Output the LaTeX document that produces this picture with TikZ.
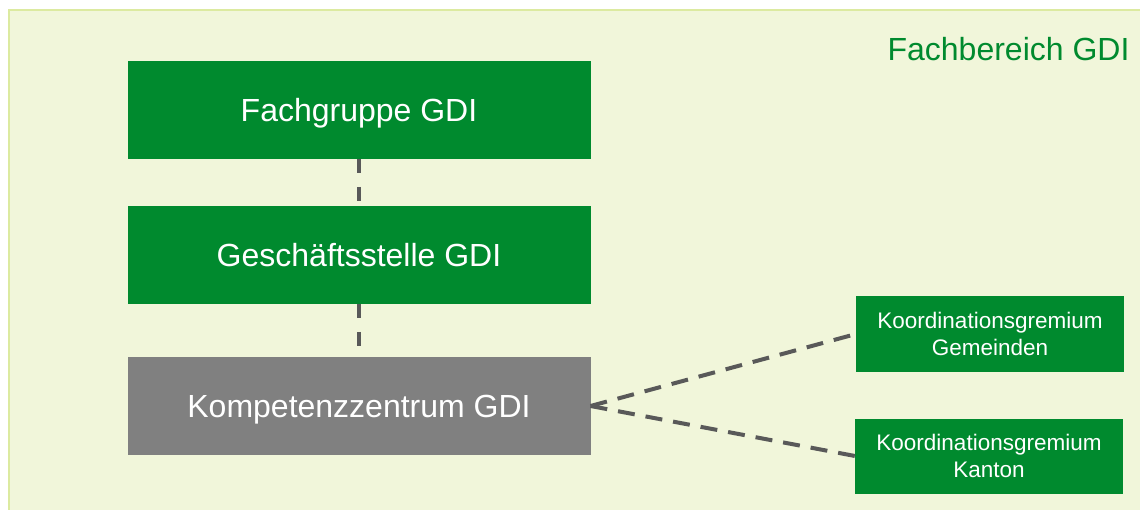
\documentclass[tikz,border=0pt]{standalone}
\usepackage{fontspec}
\setmainfont{Liberation Sans}
\usetikzlibrary{positioning}

\definecolor{gdigreen}{HTML}{008A2E}
\definecolor{gdigray}{HTML}{808080}
\definecolor{panelfill}{HTML}{F1F6DA}
\definecolor{panelline}{HTML}{DCEAA0}
\definecolor{linkgray}{HTML}{595959}

\begin{document}
\begin{tikzpicture}[x=1pt, y=-1pt,
        mainbox/.style={rectangle, fill=gdigreen, text=white, inner sep=0pt, outer sep=0pt,
                minimum width=463pt, minimum height=98pt, text height=23pt, text depth=0pt,
                font=\fontsize{32}{38}\selectfont},
        smallbox/.style={rectangle, fill=gdigreen, text=white, inner sep=0pt, outer sep=0pt,
                minimum width=268pt, minimum height=75pt, align=center,
                font=\fontsize{22.5}{27}\selectfont},
        link/.style={draw=linkgray, line width=4pt, dash pattern=on 17pt off 11pt}]
        \useasboundingbox (0,0) rectangle (1140,510);
        \fill[white] (0,0) rectangle (1140,510);
        \fill[panelfill] (9,10) rectangle (1160,530);
        \draw[panelline, line width=2pt] (9,530) -- (9,10) -- (1160,10);

        \node[anchor=east, text=gdigreen, font=\fontsize{32}{38}\selectfont] (title) at (1133,49) {Fachbereich GDI};

        \node[mainbox] (fg) at (359,110) {Fachgruppe GDI};
        \node[mainbox] (gs) [below=47pt of fg] {Geschäftsstelle GDI};
        \node[mainbox, fill=gdigray] (kz) [below=53pt of gs] {Kompetenzzentrum GDI};

        \node[smallbox] (gm) at (990,334) {Koordinationsgremium\\Gemeinden};
        \node[smallbox] (ka) at (989,456) {Koordinationsgremium\\Kanton};

        % dashed links between the units
        \draw[link, dash pattern=on 14pt off 14pt] (fg) -- (gs);
        \draw[link, dash pattern=on 14pt off 14pt] (gs) -- (kz);
        \draw[link] (kz.east) -- (gm.west);
        \draw[link] (kz.east) -- (ka.west);
\end{tikzpicture}
\end{document}
